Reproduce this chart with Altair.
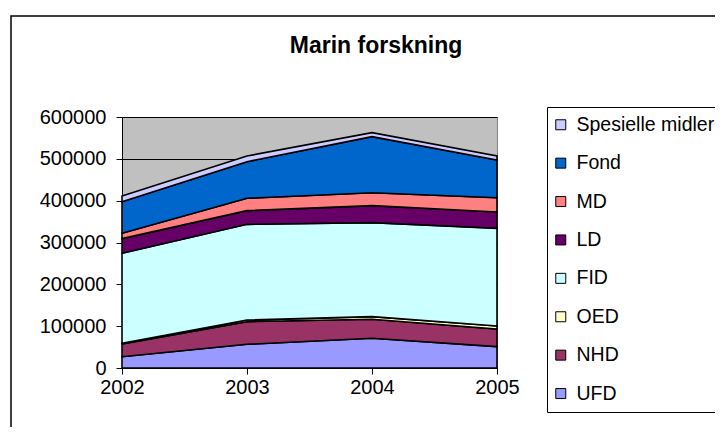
import altair as alt
import pandas as pd

years = ["2002", "2003", "2004", "2005"]
UFD = [27000, 56600, 71000, 51000]
NHD = [30400, 54100, 45400, 42200]
OED = [1600, 4000, 6300, 7200]
FID = [215100, 228700, 224700, 233500]
LD = [35100, 32700, 40700, 39000]
MD = [12800, 29500, 30900, 34200]
Fond = [75600, 87600, 134000, 90100]
Spesielle = [13600, 13600, 9500, 9600]

series_names = ["UFD", "NHD", "OED", "FID", "LD", "MD", "Fond", "Spesielle midler"]
series_values = [UFD, NHD, OED, FID, LD, MD, Fond, Spesielle]
series_colors = ["#9999FF", "#993366", "#FFFFCC", "#CCFFFF", "#660066", "#FF8080", "#0066CC", "#CCCCFF"]
y_ticks = [0, 100000, 200000, 300000, 400000, 500000, 600000]
title_text = "Marin forskning"

rows = []
for i, (name, vals) in enumerate(zip(series_names, series_values)):
    for yr, v in zip(years, vals):
        rows.append({"year": yr, "series": name, "value": v, "ord": i})
df = pd.DataFrame(rows)

FONT = "Liberation Sans"

areas = alt.Chart(df).mark_area(stroke="black", strokeWidth=1.6, opacity=1).encode(
    x=alt.X("year:O", scale=alt.Scale(padding=0), sort=years,
            axis=alt.Axis(title=None, labelAngle=0, labelFontSize=20, labelFont=FONT,
                          labelColor="black", tickColor="black", domainColor="black",
                          tickSize=6, labelPadding=3, grid=False)),
    y=alt.Y("value:Q", stack="zero", scale=alt.Scale(domain=[0, 600000], nice=False),
            axis=alt.Axis(title=None, values=y_ticks, format="d", labelFontSize=20,
                          labelFont=FONT, labelColor="black", tickColor="black",
                          domainColor="black", tickSize=6, labelPadding=10,
                          grid=True, gridColor="black", gridWidth=1)),
    color=alt.Color("series:N",
                    scale=alt.Scale(domain=series_names[::-1], range=series_colors[::-1]),
                    legend=alt.Legend(orient="none", legendX=425, legendY=-10, title=None,
                                      strokeColor="black", fillColor="white", padding=8,
                                      symbolType="square", symbolSize=100,
                                      symbolStrokeColor="black", symbolStrokeWidth=1,
                                      symbolOpacity=1, symbolOffset=-4,
                                      labelFontSize=19.5, labelFont=FONT, labelColor="black",
                                      rowPadding=17.4, labelOffset=6, labelLimit=400)),
    order=alt.Order("ord:Q", sort="ascending"),
)

one = pd.DataFrame({"t": [title_text]})

border = alt.Chart(one).mark_rect(
    fill="transparent", stroke="black", strokeWidth=1.5
).encode(
    x=alt.value(-111), x2=alt.value(800), y=alt.value(-101), y2=alt.value(500)
)

title = alt.Chart(one).mark_text(
    font=FONT, fontSize=23, fontWeight="bold", color="black",
    align="center", baseline="alphabetic"
).encode(x=alt.value(254), y=alt.value(-64), text="t:N")

chart = alt.layer(border, areas, title).properties(
    width=375, height=251,
    autosize=alt.AutoSizeParams(type="none"),
    padding={"left": 114, "top": 109, "right": 218, "bottom": 59},
    background="white",
).configure_view(fill="#C0C0C0", stroke="#808080", strokeWidth=1)

chart.save("out.html", embed_options={"renderer": "svg", "actions": False})
